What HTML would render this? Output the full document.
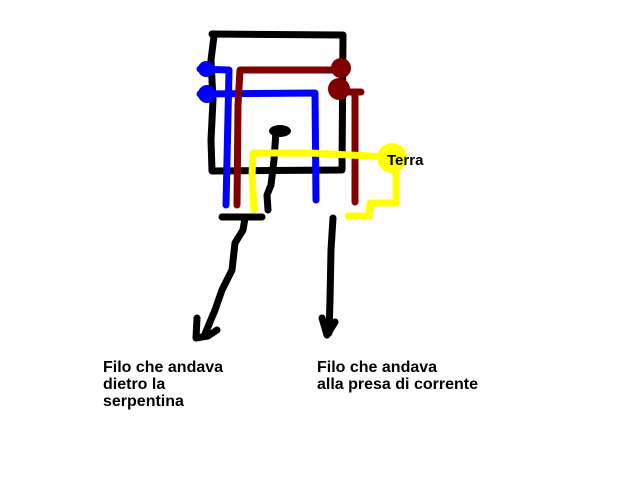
<!DOCTYPE html>
<html><head><meta charset="utf-8"><style>
html,body{margin:0;padding:0;background:#fff;width:640px;height:480px;overflow:hidden}
svg{display:block}
text{font-family:"Liberation Sans",Arial,sans-serif;font-size:16px;font-weight:bold;fill:#000}
</style></head><body>
<svg width="640" height="480" viewBox="0 0 640 480" xmlns="http://www.w3.org/2000/svg">
<g fill="none" stroke-linecap="round" stroke-linejoin="round" stroke-width="7">
<path d="M214,36 L212,34 L343,35 L342,170 L212,171 L211,140 L213,100 L211,60 L214,36" stroke="#000"/>
<path d="M200,69 L229,70 L226,205" stroke="#0000ff"/>
<path d="M200,94 L315,93 L316,200" stroke="#0000ff"/>
<circle cx="206" cy="69" r="8" fill="#0000ff" stroke="none"/>
<circle cx="207" cy="94" r="9" fill="#0000ff" stroke="none"/>
<path d="M237,205 L238,105 L240,70 L340,70" stroke="#800000"/>
<path d="M340,92 L361,92" stroke="#800000"/>
<path d="M355,92 L355,202" stroke="#800000"/>
<circle cx="341" cy="68" r="10" fill="#800000" stroke="none"/>
<circle cx="339" cy="89" r="11" fill="#800000" stroke="none"/>
<ellipse cx="280" cy="131" rx="11" ry="6" fill="#000" stroke="none"/>
<path d="M276,131 L274,160 L271,185 L267,195 L268,210" stroke="#000"/>
<path d="M254,210 L252,175 L253,153 L310,153 L390,157" stroke="#ffff00"/>
<path d="M396,160 L396,203 L370,203 L369,216 L348,216" stroke="#ffff00"/>
<circle cx="392" cy="158" r="15" fill="#ffff00" stroke="none"/>
<path d="M222,217 L262,217" stroke="#000"/>
<path d="M245,218 L243,230 L235,243 L232,270 L222,290 L215,310 L205,334" stroke="#000"/>
<path d="M197,318 L196,338 L208,336 L217,330" stroke="#000"/>
<path d="M333,218 L331,250 L330,300 L329,333" stroke="#000"/>
<path d="M322,318 L327,335 L335,322" stroke="#000"/>
</g>
<text x="387" y="165" style="font-size:15px">Terra</text>
<text x="103" y="372">Filo che andava</text>
<text x="103" y="389">dietro la</text>
<text x="103" y="406">serpentina</text>
<text x="317" y="372">Filo che andava</text>
<text x="317" y="389">alla presa di corrente</text>
</svg>
</body></html>
